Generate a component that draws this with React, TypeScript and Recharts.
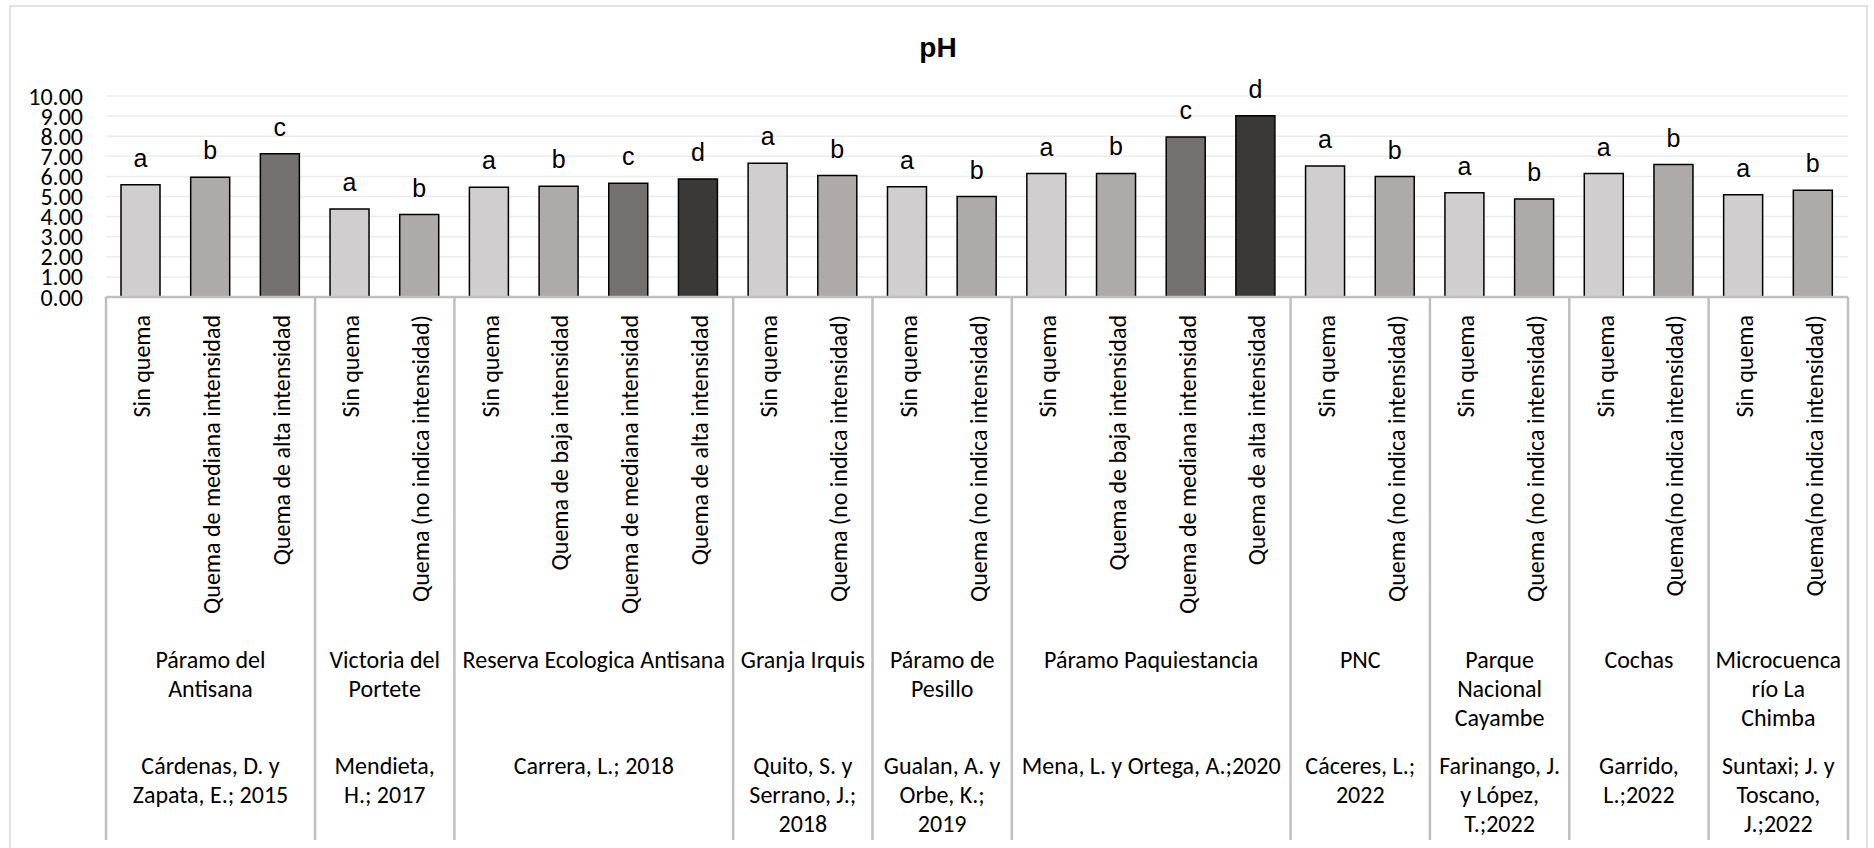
import React from 'react';
import { BarChart, Bar, XAxis, YAxis, CartesianGrid, Cell, LabelList } from 'recharts';

// sites and the number of treatments measured in each
const groupSizes = [3, 2, 4, 2, 2, 4, 2, 2, 2, 2];

const siteLines = [
  ['Páramo del', 'Antisana'],
  ['Victoria del', 'Portete'],
  ['Reserva Ecologica Antisana'],
  ['Granja Irquis'],
  ['Páramo de', 'Pesillo'],
  ['Páramo Paquiestancia'],
  ['PNC'],
  ['Parque', 'Nacional', 'Cayambe'],
  ['Cochas'],
  ['Microcuenca', 'río La', 'Chimba'],
];

const authorLines = [
  ['Cárdenas, D. y', 'Zapata, E.; 2015'],
  ['Mendieta,', 'H.; 2017'],
  ['Carrera, L.; 2018'],
  ['Quito, S. y', 'Serrano, J.;', '2018'],
  ['Gualan, A. y', 'Orbe, K.;', '2019'],
  ['Mena, L. y Ortega, A.;2020'],
  ['Cáceres, L.;', '2022'],
  ['Farinango, J.', 'y López,', 'T.;2022'],
  ['Garrido,', 'L.;2022'],
  ['Suntaxi; J. y', 'Toscano,', 'J.;2022'],
];

const treatments = [
  'Sin quema', 'Quema de mediana intensidad', 'Quema de alta intensidad',
  'Sin quema', 'Quema (no indica intensidad)',
  'Sin quema', 'Quema de baja intensidad', 'Quema de mediana intensidad', 'Quema de alta intensidad',
  'Sin quema', 'Quema (no indica intensidad)',
  'Sin quema', 'Quema (no indica intensidad)',
  'Sin quema', 'Quema de baja intensidad', 'Quema de mediana intensidad', 'Quema de alta intensidad',
  'Sin quema', 'Quema (no indica intensidad)',
  'Sin quema', 'Quema (no indica intensidad)',
  'Sin quema', 'Quema(no indica intensidad)',
  'Sin quema', 'Quema(no indica intensidad)',
];

const phValues = [
  5.59, 5.96, 7.13,
  4.38, 4.10,
  5.46, 5.51, 5.66, 5.87,
  6.65, 6.04,
  5.49, 5.00,
  6.14, 6.15, 7.96, 9.02,
  6.52, 5.99,
  5.19, 4.88,
  6.14, 6.59,
  5.09, 5.31,
];

const letters = [
  'a', 'b', 'c',
  'a', 'b',
  'a', 'b', 'c', 'd',
  'a', 'b',
  'a', 'b',
  'a', 'b', 'c', 'd',
  'a', 'b',
  'a', 'b',
  'a', 'b',
  'a', 'b',
];

const yTicks = [0, 1, 2, 3, 4, 5, 6, 7, 8, 9, 10];

// shade by position of the treatment inside its site
const shades = ['#d0cece', '#aeaaaa', '#767171', '#3b3838'];

const W = 1874;
const H = 848;
const PLOT_LEFT = 106;
const PLOT_RIGHT = 1848;
const AXIS_Y = 297;
const LABEL_FONT = 'Calibri, Carlito, Lato, sans-serif';
const LABEL_SIZE = 24;
const GRID = '#bfbfbf';

// group index / position for every bar
const groupOf: number[] = [];
const posOf: number[] = [];
groupSizes.forEach((n, g) => {
  for (let k = 0; k < n; k++) {
    groupOf.push(g);
    posOf.push(k);
  }
});

const data = treatments.map((t, i) => ({
  id: i,
  treatment: t,
  ph: phValues[i],
  letter: letters[i],
}));

const YTick = ({ y, payload }: any) => (
  <text
    x={83}
    y={y}
    textAnchor="end"
    dominantBaseline="central"
    fontFamily={LABEL_FONT}
    fontSize={LABEL_SIZE}
    fill="#000"
  >
    {Number(payload.value).toFixed(2)}
  </text>
);

const CatTick = ({ x, y, payload }: any) => {
  const i = payload.index ?? payload.value;
  const half = (PLOT_RIGHT - PLOT_LEFT) / treatments.length / 2;
  const g = groupOf[i];
  const first = posOf[i] === 0;
  const last = i === treatments.length - 1;
  const gx = x - half + groupSizes[g] * half;
  return (
    <g>
      <text
        transform={`translate(${x + 1},${y + 18}) rotate(-90)`}
        textAnchor="end"
        dominantBaseline="central"
        fontFamily={LABEL_FONT}
        fontSize={LABEL_SIZE}
        fill="#000"
      >
        {treatments[i]}
      </text>
      {first && (
        <line x1={x - half} x2={x - half} y1={y} y2={840} stroke={GRID} strokeWidth={2.5} />
      )}
      {last && (
        <line x1={x + half} x2={x + half} y1={y} y2={840} stroke={GRID} strokeWidth={2.5} />
      )}
      {first &&
        siteLines[g].map((s, k) => (
          <text
            key={'s' + k}
            x={gx}
            y={659.5 + k * 29}
            textAnchor="middle"
            dominantBaseline="central"
            fontFamily={LABEL_FONT}
            fontSize={LABEL_SIZE}
            fill="#000"
          >
            {s}
          </text>
        ))}
      {first &&
        authorLines[g].map((s, k) => (
          <text
            key={'a' + k}
            x={gx}
            y={765 + k * 29}
            textAnchor="middle"
            dominantBaseline="central"
            fontFamily={LABEL_FONT}
            fontSize={LABEL_SIZE}
            fill="#000"
          >
            {s}
          </text>
        ))}
    </g>
  );
};

const LetterLabel = ({ x, y, width, index }: any) => (
  <text
    x={x + width / 2}
    y={y - 18}
    textAnchor="middle"
    fontFamily="'Liberation Sans', Arial, sans-serif"
    fontSize={25}
    fill="#000"
  >
    {letters[index]}
  </text>
);

export default function App() {
  return (
    <div style={{ position: 'absolute', left: 0, top: 0, width: W, height: H, background: '#fff', overflow: 'hidden' }}>
      <svg width={W} height={H} style={{ position: 'absolute', left: 0, top: 0 }}>
        <rect x={10} y={6} width={1857} height={900} fill="#fff" stroke="#d9d9d9" strokeWidth={1.5} />
        <text
          x={938}
          y={57}
          textAnchor="middle"
          fontFamily="'Liberation Sans', Arial, sans-serif"
          fontWeight="bold"
          fontSize={28}
          fill="#000"
        >
          pH
        </text>
      </svg>
      <div style={{ position: 'absolute', left: 0, top: 0 }}>
        <BarChart
          width={W}
          height={H}
          data={data}
          margin={{ top: 96, right: W - PLOT_RIGHT, bottom: 0, left: 0 }}
        >
          <CartesianGrid vertical={false} stroke="#ececec" strokeWidth={1.5} />
          <YAxis
            type="number"
            domain={[0, 10]}
            ticks={yTicks}
            interval={0}
            width={PLOT_LEFT}
            axisLine={false}
            tickLine={false}
            tick={<YTick />}
          />
          <XAxis
            dataKey="id"
            type="category"
            interval={0}
            height={H - AXIS_Y}
            tickLine={false}
            tickSize={0}
            tickMargin={0}
            axisLine={{ stroke: GRID, strokeWidth: 2.5 }}
            tick={<CatTick />}
          />
          <Bar dataKey="ph" barSize={39} stroke="#000" strokeWidth={1.5} isAnimationActive={false}>
            {data.map((d, i) => (
              <Cell key={i} fill={shades[posOf[i]]} />
            ))}
            <LabelList dataKey="letter" content={<LetterLabel />} />
          </Bar>
        </BarChart>
      </div>
    </div>
  );
}
